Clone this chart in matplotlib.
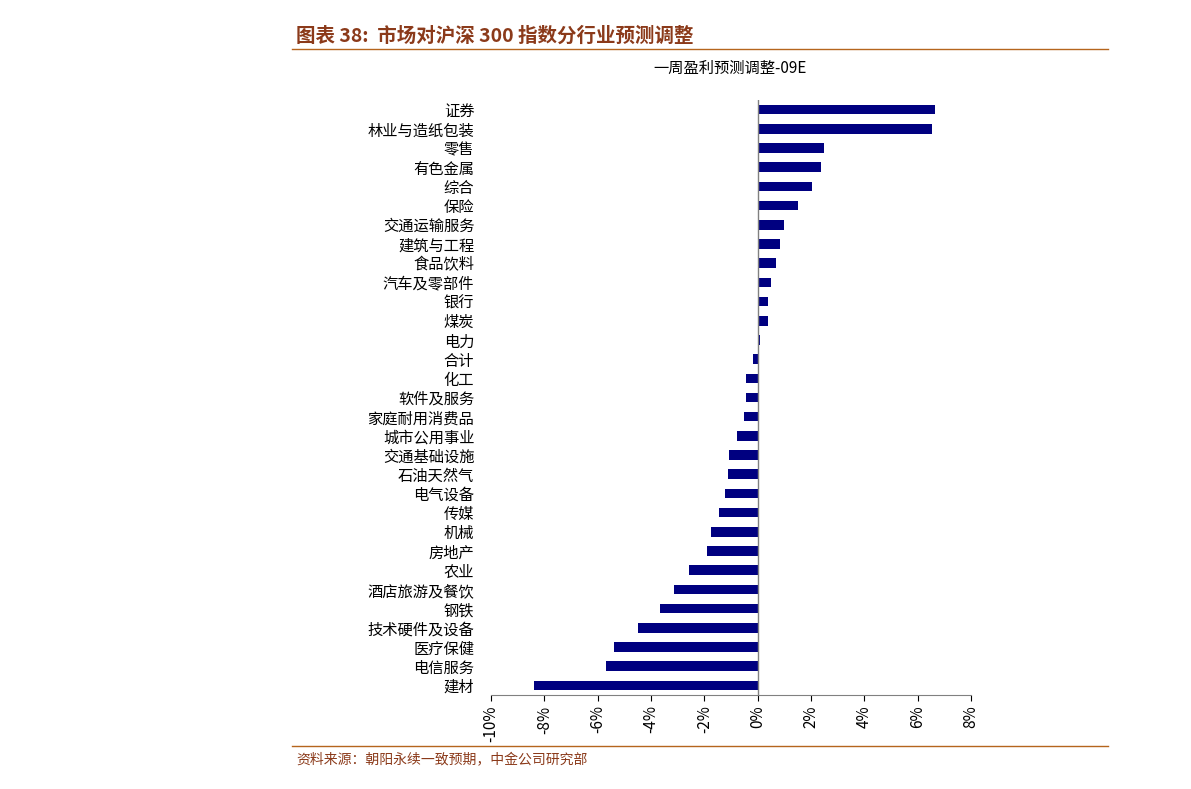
import matplotlib
matplotlib.use("Agg")
import matplotlib.pyplot as plt
from matplotlib.ticker import FuncFormatter

plt.rcParams['font.family'] = ['Noto Sans CJK SC', 'DejaVu Sans']

categories = ["证券","林业与造纸包装","零售","有色金属","综合","保险","交通运输服务","建筑与工程","食品饮料","汽车及零部件",
              "银行","煤炭","电力","合计","化工","软件及服务","家庭耐用消费品","城市公用事业","交通基础设施","石油天然气",
              "电气设备","传媒","机械","房地产","农业","酒店旅游及餐饮","钢铁","技术硬件及设备","医疗保健","电信服务","建材"]
values = [6.64,6.53,2.47,2.36,2.02,1.50,1.00,0.82,0.67,0.49,
          0.37,0.37,0.08,-0.18,-0.45,-0.45,-0.52,-0.78,-1.07,-1.10,
          -1.22,-1.45,-1.75,-1.90,-2.58,-3.13,-3.66,-4.48,-5.38,-5.68,-8.38]
xticks = [-10,-8,-6,-4,-2,0,2,4,6,8]

fig = plt.figure(figsize=(11.91,7.89), dpi=100)
ax = fig.add_axes([491/1191, 1-695/789, 480/1191, 595/789])
y = list(range(len(categories)))
ax.barh(y, values, height=0.5, color='#000080')
ax.set_ylim(len(categories)-0.5, -0.5)
ax.set_xlim(-10, 8)
ax.set_xticks(xticks)
ax.xaxis.set_major_formatter(FuncFormatter(lambda v,p: f"{int(v)}%"))
plt.setp(ax.get_xticklabels(), rotation=90, fontsize=11)
ax.set_yticks(y)
ax.set_yticklabels(categories, fontsize=11)
ax.tick_params(axis='y', length=0, pad=12)
ax.tick_params(axis='x', direction='out', length=4)
for s in ['top','right','left']:
    ax.spines[s].set_visible(False)
ax.axvline(0, color='#808080', lw=1)
ax.spines['bottom'].set_color('#808080')

fig.text(296/1191, 1-36/789, "图表 38:  市场对沪深 300 指数分行业预测调整", fontsize=14, fontweight='bold', color='#8B3A1A', va='center')
fig.add_artist(plt.Line2D([292/1191, 1108/1191], [1-49/789]*2, color='#B5651D', lw=1))
fig.text(730/1191, 1-68/789, "一周盈利预测调整-09E", fontsize=11, ha='center', va='center')
fig.add_artist(plt.Line2D([292/1191, 1108/1191], [1-746/789]*2, color='#B5651D', lw=1))
fig.text(296/1191, 1-760/789, "资料来源：朝阳永续一致预期，中金公司研究部", fontsize=10, style='italic', color='#8B3A1A', va='center')
fig.savefig("out.png", dpi=100, facecolor='white')
